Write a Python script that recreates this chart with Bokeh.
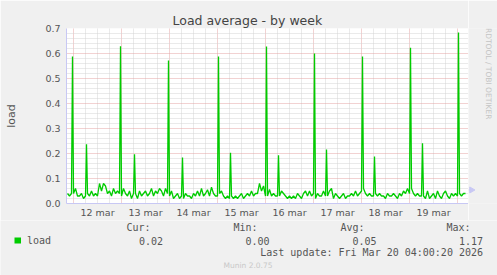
import numpy as np
from bokeh.plotting import figure
from bokeh.layouts import column, row
from bokeh.models import FixedTicker, ColumnDataSource, Range1d, NumeralTickFormatter
from bokeh.core.properties import value
from bokeh.embed import file_html
from bokeh.resources import INLINE

# ---------------- data ----------------
TITLE = "Load average - by week"
Y_LABEL = "load"
SIDE_TEXT = "RRDTOOL / TOBI OETIKER"
FOOTER = "Munin 2.0.75"
DAY_LABELS = ["12 mar", "13 mar", "14 mar", "15 mar", "16 mar", "17 mar", "18 mar", "19 mar"]
Y_TICKS = [0.0, 0.1, 0.2, 0.3, 0.4, 0.5, 0.6, 0.7]

# hours relative to 12 mar 00:00; hourly baseline load, starting at 11 mar 21:00
START_HOUR = -3
base_11 = [0.04, 0.03, 0.04]
base_12 = [0.04, 0.06, 0.03, 0.03, 0.04, 0.02, 0.03, 0.04, 0.03, 0.05, 0.03, 0.04,
           0.03, 0.08, 0.05, 0.08, 0.07, 0.04, 0.05, 0.03, 0.06, 0.04, 0.05, 0.04]
base_13 = [0.03, 0.06, 0.04, 0.03, 0.05, 0.02, 0.04, 0.04, 0.02, 0.05, 0.03, 0.04,
           0.05, 0.03, 0.04, 0.06, 0.03, 0.05, 0.04, 0.06, 0.05, 0.03, 0.06, 0.04]
base_14 = [0.03, 0.05, 0.02, 0.03, 0.04, 0.02, 0.03, 0.02, 0.04, 0.03, 0.03, 0.02,
           0.04, 0.03, 0.05, 0.03, 0.06, 0.03, 0.04, 0.055, 0.03, 0.065, 0.04, 0.03]
base_15 = [0.03, 0.04, 0.05, 0.03, 0.02, 0.03, 0.02, 0.03, 0.02, 0.03, 0.02, 0.03,
           0.04, 0.02, 0.03, 0.04, 0.03, 0.05, 0.03, 0.04, 0.04, 0.08, 0.05, 0.07]
base_16 = [0.03, 0.03, 0.056, 0.03, 0.04, 0.03, 0.03, 0.03, 0.05, 0.04, 0.03, 0.02,
           0.03, 0.02, 0.03, 0.02, 0.04, 0.03, 0.02, 0.04, 0.05, 0.03, 0.05, 0.03]
base_17 = [0.04, 0.02, 0.04, 0.03, 0.03, 0.05, 0.03, 0.03, 0.05, 0.06, 0.02, 0.04,
           0.03, 0.02, 0.03, 0.04, 0.02, 0.03, 0.03, 0.04, 0.03, 0.05, 0.03, 0.04]
base_18 = [0.05, 0.06, 0.04, 0.03, 0.04, 0.03, 0.03, 0.04, 0.03, 0.04, 0.03, 0.03,
           0.02, 0.04, 0.03, 0.03, 0.04, 0.03, 0.02, 0.04, 0.03, 0.05, 0.04, 0.06]
base_19 = [0.04, 0.06, 0.04, 0.03, 0.04, 0.03, 0.03, 0.03, 0.02, 0.05, 0.02, 0.03,
           0.04, 0.02, 0.05, 0.03, 0.02, 0.04, 0.05, 0.03, 0.02, 0.04, 0.03, 0.04]
base_20 = [0.03, 0.04, 0.03, 0.04, 0.04]

# nightly spikes (~23:30) and morning spikes (~06:30)
night_hours = [-0.5, 23.5, 47.5, 72.5, 96.5, 120.5, 144.5, 168.5, 192.5]
night_values = [0.588, 0.629, 0.572, 0.588, 0.628, 0.600, 0.588, 0.623, 0.684]
morning_hours = [6.5, 30.5, 54.5, 78.5, 102.5, 126.5, 150.5, 174.5]
morning_values = [0.237, 0.197, 0.184, 0.203, 0.193, 0.216, 0.188, 0.241]

STAT_NAMES = ["Cur:", "Min:", "Avg:", "Max:"]
STAT_VALUES = ["0.02", "0.00", "0.05", "1.17"]
SERIES_NAME = "load"
LAST_UPDATE = "Last update: Fri Mar 20 04:00:20 2026"

# ---------------- build series ----------------
baseline = base_11 + base_12 + base_13 + base_14 + base_15 + base_16 + base_17 + base_18 + base_19 + base_20
hours = list(START_HOUR + np.arange(len(baseline)))
all_h = np.array(hours + night_hours + morning_hours, dtype=float)
all_v = np.array(baseline + night_values + morning_values, dtype=float)
order = np.argsort(all_h)
src = ColumnDataSource(dict(h=all_h[order], v=all_v[order]))

GREEN = "#00cc00"
TEXT = "#555555"
AXIS_BLUE = "#c8c8f4"
BG = "#f0f0f0"
SANS = "DejaVu Sans"
MONO = "DejaVu Sans Mono"

# ---------------- main chart ----------------
p = figure(width=468, height=220, output_backend="svg", toolbar_location=None,
           x_range=Range1d(-3.5, 197.5), y_range=Range1d(0, 0.7),
           min_border_left=66, min_border_right=0, min_border_top=28, min_border_bottom=17,
           background_fill_color="#ffffff", border_fill_color=BG,
           outline_line_color=None)

p.title.text = TITLE
p.title.align = "left"
p.title.offset = 106
p.title.standoff = 2
p.title.text_font = SANS
p.title.text_font_size = "12.5px"
p.title.text_font_style = "normal"
p.title.text_color = "#444444"

midnights = [24 * k for k in range(9)]
six_hours = [6 * k for k in range(-1, 34) if k % 4 != 0]
noons = [12 + 24 * k for k in range(8)]
p.xaxis.ticker = FixedTicker(ticks=noons)
p.xaxis.major_label_overrides = {n: lab for n, lab in zip(noons, DAY_LABELS)}
p.yaxis.ticker = FixedTicker(ticks=Y_TICKS,
                             minor_ticks=[round(0.02 * i, 2) for i in range(36) if i % 5 != 0])
p.yaxis.formatter = NumeralTickFormatter(format="0.0")
for ax in (p.xaxis, p.yaxis):
    ax.major_tick_in = 0
    ax.major_tick_out = 0
    ax.minor_tick_in = 0
    ax.minor_tick_out = 0
    ax.axis_line_color = AXIS_BLUE
    ax.major_label_text_font = SANS
    ax.major_label_text_font_size = "9.5px"
    ax.major_label_text_color = TEXT
p.yaxis.major_label_standoff = 6
p.xaxis.major_label_standoff = 3
p.yaxis.axis_label = Y_LABEL
p.yaxis.axis_label_text_font = SANS
p.yaxis.axis_label_text_font_size = "11px"
p.yaxis.axis_label_text_font_style = "normal"
p.yaxis.axis_label_text_color = TEXT
p.yaxis.axis_label_standoff = 24

p.xgrid.ticker = FixedTicker(ticks=midnights, minor_ticks=six_hours)
for g in (p.xgrid, p.ygrid):
    g.grid_line_color = "#e4a4a4"
    g.grid_line_dash = "1 1"
    g.grid_line_width = 1
    g.minor_grid_line_color = "#d4d4d4"
    g.minor_grid_line_dash = "1 1"

p.line("h", "v", source=src, line_color=GREEN, line_width=1.3)

# ---------------- right strip (vertical credit + axis arrow) ----------------
r = figure(width=29, height=220, output_backend="svg", toolbar_location=None,
           x_range=Range1d(468, 497), y_range=Range1d(220, 0),
           x_axis_location=None, y_axis_location=None,
           min_border=0, background_fill_color=BG, border_fill_color=BG,
           outline_line_color=None)
r.grid.visible = False
r.text(x=[488], y=[53.5], text=[SIDE_TEXT], angle=-np.pi / 2,
       text_font=value(SANS), text_font_size=value("7.5px"), text_color="#c4c4c4",
       text_align="center", text_baseline="middle")
r.segment(x0=[468], y0=[203], x1=[470], y1=[203], line_color=AXIS_BLUE)
r.scatter(x=[471], y=[203], marker="triangle", angle=-np.pi / 2, size=6,
          fill_color=AXIS_BLUE, line_color=AXIS_BLUE)

# ---------------- legend / footer strip ----------------
lg = figure(width=497, height=55, output_backend="svg", toolbar_location=None,
            x_range=Range1d(0, 497), y_range=Range1d(275, 220),
            x_axis_location=None, y_axis_location=None,
            min_border=0, background_fill_color=BG, border_fill_color=BG,
            outline_line_color=None)
lg.grid.visible = False

stat_name_right = [150, 257, 364, 470]
stat_val_right = [162.5, 269, 376, 482.5]
lg.text(x=stat_name_right, y=[227] * 4, text=STAT_NAMES, text_font=value(MONO),
        text_font_size=value("10px"), text_color=TEXT, text_align="right", text_baseline="middle")
lg.text(x=stat_val_right, y=[240] * 4, text=STAT_VALUES, text_font=value(MONO),
        text_font_size=value("10px"), text_color=TEXT, text_align="right", text_baseline="middle")
lg.text(x=[26.5], y=[240], text=[SERIES_NAME], text_font=value(MONO),
        text_font_size=value("10px"), text_color=TEXT, text_align="left", text_baseline="middle")
lg.text(x=[482.5], y=[252], text=[LAST_UPDATE], text_font=value(MONO),
        text_font_size=value("10px"), text_color=TEXT, text_align="right", text_baseline="middle")
lg.text(x=[247.5], y=[264.5], text=[FOOTER], text_font=value(SANS),
        text_font_size=value("7.5px"), text_color="#c8c8c8", text_align="center",
        text_baseline="middle")
lg.rect(x=[17.25], y=[240], width=6.5, height=6, fill_color=GREEN, line_color=None)

layout = column(row(p, r, spacing=0), lg, spacing=0)
open("out.html", "w").write(file_html(layout, INLINE))
